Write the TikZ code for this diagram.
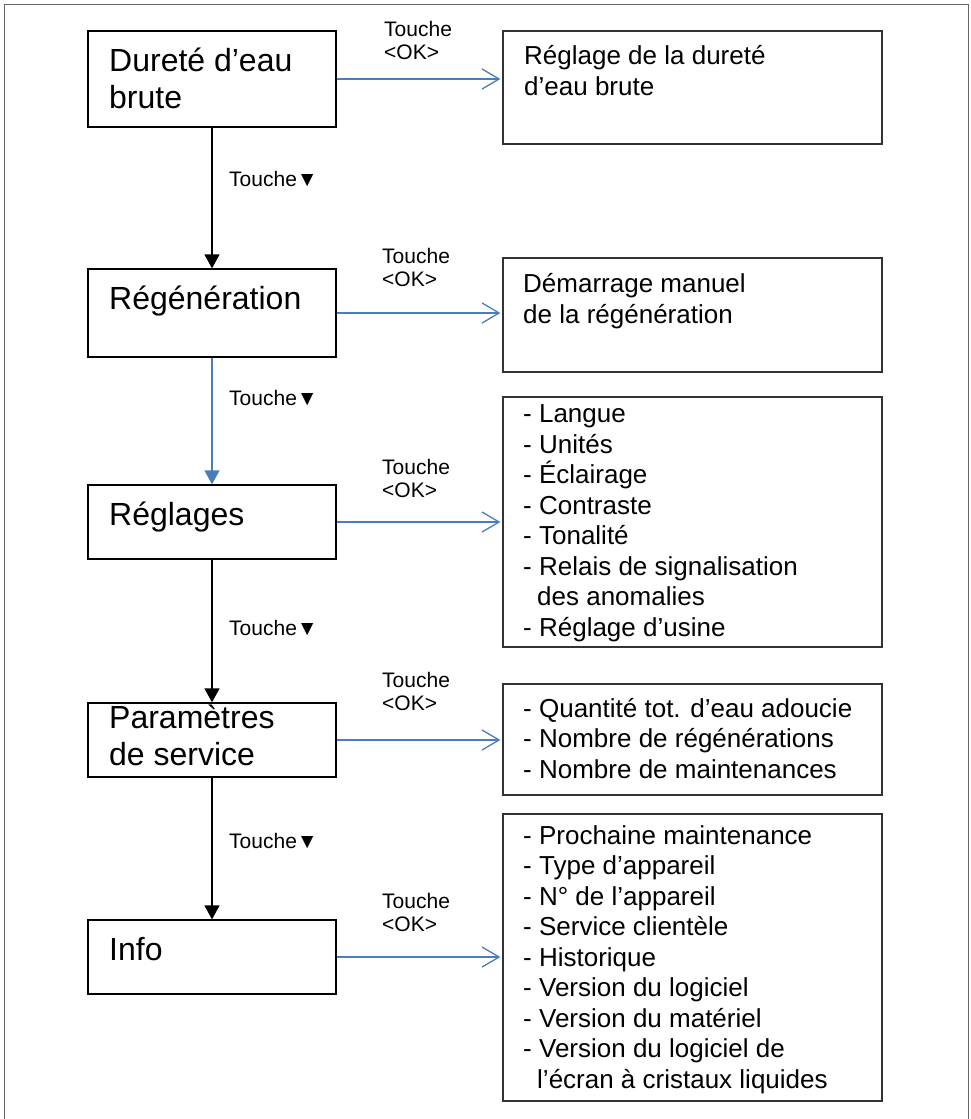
\documentclass[tikz,border=0pt]{standalone}
\usepackage{fontspec}
\setmainfont{Liberation Sans}
\usetikzlibrary{arrows.meta, positioning}

\definecolor{okblue}{HTML}{4A7EBB}

\tikzset{
    lbox/.style = {draw, line width=1.3pt, minimum width=248pt, inner sep=0pt},
    rbox/.style = {draw=black!80, line width=1.3pt, minimum width=379pt, inner sep=0pt},
    ltext/.style = {anchor=base west, align=left, inner sep=0pt, font=\fontsize{32}{37}\selectfont},
    rtext/.style = {anchor=base west, align=left, inner sep=0pt, font=\fontsize{26}{30.5}\selectfont},
    keytext/.style = {anchor=base west, align=left, inner sep=0pt, font=\fontsize{21}{23}\selectfont},
    downarrow/.style = {-{Triangle[length=14pt, width=15pt]}, line width=1.5pt},
    okarrow/.style = {-{Straight Barb[length=17pt, width=20pt]}, okblue, line width=1.3pt, shorten >=2pt}
}

\begin{document}
\begin{tikzpicture} [x=1pt, y=-1pt]
        \useasboundingbox (0,0) rectangle (971,1119);
        \draw [black!60, line width=1pt] (4,1119) |- (968,4.5) -- (968,1119);

        % menu entries (text placed on the baseline of its last line)
        \node (dur) [lbox, minimum height=96pt] at (212,79) {};
        \node (regen) [lbox, minimum height=88pt] at (212,313) {};
        \node (regl) [lbox, minimum height=74pt] at (212,522) {};
        \node (param) [lbox, minimum height=74pt] at (212,740) {};
        \node (info) [lbox, minimum height=74pt] at (212,957) {};

        \node (durt) [ltext] at (109,108) {Dureté d’eau\\brute};
        \node (regent) [ltext] at (109,309) {Régénération};
        \node (reglt) [ltext] at (109,525) {Réglages};
        \node (paramt) [ltext] at (109,765) {Paramètres\\de service};
        \node (infot) [ltext] at (109,960) {Info};

        % sub menus
        \node (rdur) [rbox, minimum height=113pt] at (692.5,87.5) {};
        \node (rregen) [rbox, minimum height=114pt] at (692.5,315) {};
        \node (rregl) [rbox, minimum height=250pt] at (692.5,522) {};
        \node (rparam) [rbox, minimum height=111pt] at (692.5,739.5) {};
        \node (rinfo) [rbox, minimum height=287pt] at (692.5,957.5) {};

        \node (rdurt) [rtext] at (524,95) {Réglage de la dureté\\d’eau brute};
        \node (rregent) [rtext] at (523,323) {Démarrage manuel\\de la régénération};
        \node (rreglt) [rtext] at (523,636) {- Langue\\- Unités\\- Éclairage\\- Contraste\\- Tonalité\\- Relais de signalisation\\\hspace*{14pt}des anomalies\\- Réglage d’usine};
        \node (rparamt) [rtext] at (523,778) {- Quantité tot. d’eau adoucie\\- Nombre de régénérations\\- Nombre de maintenances};
        \node (rinfot) [rtext] at (523,1088) {- Prochaine maintenance\\- Type d’appareil\\- N° de l’appareil\\- Service clientèle\\- Historique\\- Version du logiciel\\- Version du matériel\\- Version du logiciel de\\\hspace*{14pt}l’écran à cristaux liquides};

        % Touche <OK>
        \path [okarrow] (dur) edge (dur -| rdur.west);
        \path [okarrow] (regen) edge (regen -| rregen.west);
        \path [okarrow] (regl) edge (regl -| rregl.west);
        \path [okarrow] (param) edge (param -| rparam.west);
        \path [okarrow] (info) edge (info -| rinfo.west);

        \node (ok1) [keytext] at (384,59) {Touche\\<OK>};
        \node (ok2) [keytext] at (382,286) {Touche\\<OK>};
        \node (ok3) [keytext] at (382,497) {Touche\\<OK>};
        \node (ok4) [keytext] at (382,710) {Touche\\<OK>};
        \node (ok5) [keytext] at (382,931) {Touche\\<OK>};

        % Touche down
        \path [downarrow] (dur) edge (regen);
        \path [downarrow, okblue] (regen) edge (regl);
        \path [downarrow] (regl) edge (param);
        \path [downarrow] (param) edge (info);

        \node (dn1) [keytext] at (229,186) {Touche▼};
        \node (dn2) [keytext] at (229,405) {Touche▼};
        \node (dn3) [keytext] at (229,635) {Touche▼};
        \node (dn4) [keytext] at (229,848) {Touche▼};
\end{tikzpicture}
\end{document}
